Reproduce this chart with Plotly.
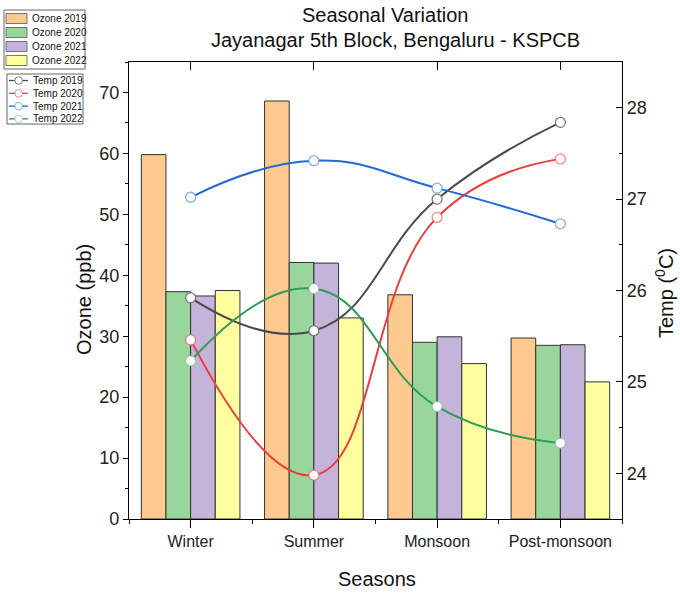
import plotly.graph_objects as go

# ---- data ----
seasons = ["Winter", "Summer", "Monsoon", "Post-monsoon"]

ozone_2019 = [59.8, 68.6, 36.8, 29.7]
ozone_2020 = [37.3, 42.1, 29.0, 28.5]
ozone_2021 = [36.6, 42.0, 29.9, 28.6]
ozone_2022 = [37.5, 33.0, 25.5, 22.5]

temp_2019 = [25.92, 25.56, 27.00, 27.84]
temp_2020 = [25.46, 23.98, 26.80, 27.44]
temp_2021 = [27.02, 27.42, 27.12, 26.73]
temp_2022 = [25.23, 26.02, 24.73, 24.33]

ozone_ticks = [0, 10, 20, 30, 40, 50, 60, 70]
temp_ticks = [24, 25, 26, 27, 28]

# ---- style ----
FONT = "Arial, Liberation Sans, sans-serif"
W, H = 680, 596
L, R, T, B = 129, 58, 62, 77
PW, PH = W - L - R, H - T - B

bar_names = ["Ozone 2019", "Ozone 2020", "Ozone 2021", "Ozone 2022"]
bar_colors = ["#FDC98F", "#98D69B", "#C4B4D9", "#FFFE9F"]
line_names = ["Temp 2019", "Temp 2020", "Temp 2021", "Temp 2022"]
line_colors = ["#4A4A4A", "#EE3B3B", "#2169D8", "#2E9C58"]
marker_edges = ["rgba(110,110,110,0.9)", "rgba(238,90,90,0.7)",
                "rgba(110,150,220,0.8)", "rgba(120,190,140,0.6)"]

xpos = list(range(len(seasons)))


def paper(px, py):
    """Convert a pixel position in the page to paper coordinates."""
    return (px - L) / PW, (H - B - py) / PH


fig = go.Figure()

for name, vals, col in zip(bar_names, [ozone_2019, ozone_2020, ozone_2021, ozone_2022], bar_colors):
    fig.add_trace(go.Bar(
        x=xpos, y=vals, name=name, marker_color=col,
        marker_line=dict(color="#333333", width=1),
        showlegend=False, xaxis="x", yaxis="y",
    ))

for name, vals, col, edge in zip(line_names, [temp_2019, temp_2020, temp_2021, temp_2022],
                                 line_colors, marker_edges):
    fig.add_trace(go.Scatter(
        x=xpos, y=vals, name=name, mode="lines+markers",
        line=dict(color=col, width=2, shape="spline", smoothing=1.3),
        marker=dict(symbol="circle", size=10, color="white",
                    line=dict(color=edge, width=1.3)),
        showlegend=False, xaxis="x2", yaxis="y2",
    ))

axis_common = dict(showline=True, linecolor="black", linewidth=1.3,
                   showgrid=False, zeroline=False)
xfont = dict(family=FONT, size=16, color="#222")
yfont = dict(family=FONT, size=18, color="#222")

fig.update_layout(
    width=W, height=H,
    margin=dict(l=L, r=R, t=T, b=B),
    paper_bgcolor="white", plot_bgcolor="white",
    barmode="group", bargap=0.2, bargroupgap=0,
    showlegend=False,
    xaxis=dict(range=[-0.5, 3.5], tickmode="array", tickvals=xpos, ticktext=seasons,
               ticks="outside", ticklen=8, tickwidth=1.3, tickcolor="black",
               tickfont=xfont,
               minor=dict(tick0=-0.5, dtick=1, ticks="outside", ticklen=4,
                          tickwidth=1.3, tickcolor="black"),
               **axis_common),
    xaxis2=dict(range=[-0.5, 3.5], overlaying="x", side="top", anchor="y2",
                tickmode="array", tickvals=xpos, showticklabels=False,
                ticks="inside", ticklen=8, tickwidth=1.3, tickcolor="black",
                **axis_common),
    yaxis=dict(range=[0, 75], tickmode="array", tickvals=ozone_ticks,
               ticks="outside", ticklen=5, tickwidth=1.3, tickcolor="black",
               tickfont=yfont,
               minor=dict(dtick=5, ticks="outside", ticklen=3, tickwidth=1.3,
                          tickcolor="black"),
               **axis_common),
    yaxis2=dict(range=[23.5, 28.5], overlaying="y", side="right", anchor="x2",
                tickmode="array", tickvals=temp_ticks,
                ticks="inside", ticklen=6, tickwidth=1.3, tickcolor="black",
                tickfont=yfont,
                minor=dict(dtick=0.5, tick0=23.5, ticks="inside", ticklen=3,
                           tickwidth=1.3, tickcolor="black"),
                **axis_common),
)

annotations = []
shapes = []


def text_at(px, py, text, size, angle=0, anchor="center"):
    x, y = paper(px, py)
    annotations.append(dict(x=x, y=y, xref="paper", yref="paper", text=text,
                            showarrow=False, textangle=angle, xanchor=anchor,
                            yanchor="middle",
                            font=dict(family=FONT, size=size, color="#111")))


def rect(x0, y0, x1, y1, kind="rect", **kw):
    a0, b0 = paper(x0, y1)
    a1, b1 = paper(x1, y0)
    shapes.append(dict(type=kind, xref="paper", yref="paper",
                       x0=a0, y0=b0, x1=a1, y1=b1, **kw))


# titles
text_at(385, 15, "Seasonal Variation", 20)
text_at(395, 40, "Jayanagar 5th Block, Bengaluru - KSPCB", 20)
text_at(377, 579, "Seasons", 20)
text_at(84, 300, "Ozone (ppb)", 20, angle=-90)
text_at(664, 293, "Temp (<sup>0</sup>C)", 20, angle=-90)

# legend for bars
rect(4, 10, 85, 69, line=dict(color="#666", width=1), fillcolor="white")
for i, (name, col) in enumerate(zip(bar_names, bar_colors)):
    cy = 18.5 + 14 * i
    rect(6, cy - 5, 27, cy + 5, line=dict(color="#555", width=0.8), fillcolor=col)
    text_at(30, cy, name, 10, anchor="left")

# legend for temperature lines
rect(7, 74, 83, 124, line=dict(color="#666", width=1), fillcolor="white")
for i, (name, col, edge) in enumerate(zip(line_names, line_colors, marker_edges)):
    cy = 80.5 + 12.8 * i
    a0, b0 = paper(9, cy)
    a1, _ = paper(28, cy)
    shapes.append(dict(type="line", xref="paper", yref="paper", x0=a0, y0=b0,
                       x1=a1, y1=b0, line=dict(color=col, width=1.3)))
    rect(14.8, cy - 3.8, 22.4, cy + 3.8, kind="circle", fillcolor="white",
         line=dict(color=edge, width=1))
    text_at(30.5, cy, name, 10, anchor="left")

fig.update_layout(annotations=annotations, shapes=shapes)

fig.write_html("out.html")
